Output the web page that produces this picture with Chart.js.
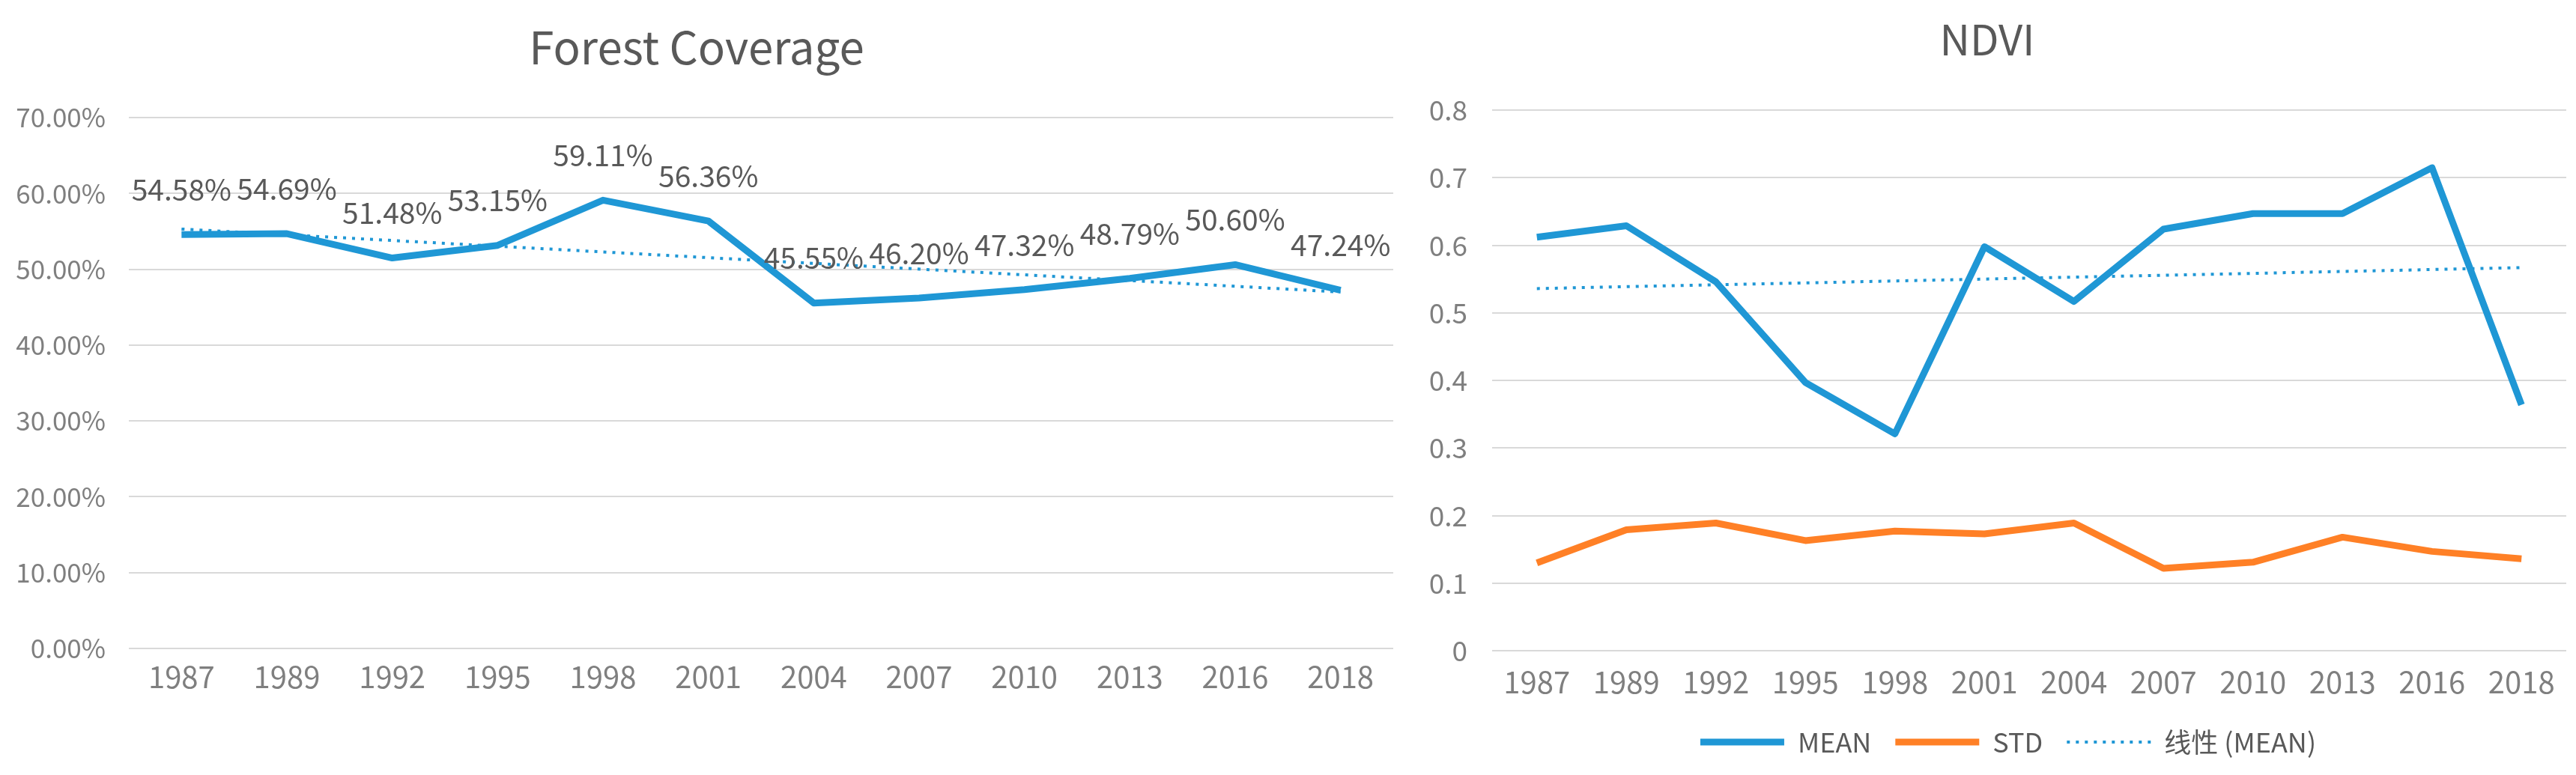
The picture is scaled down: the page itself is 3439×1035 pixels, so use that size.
<!DOCTYPE html>
<html>
<head>
<meta charset="utf-8">
<script src="https://cdn.jsdelivr.net/npm/chart.js@4.4.1/dist/chart.umd.min.js"></script>
<style>
  html, body { margin: 0; padding: 0; background: #fff; overflow: hidden; }
  .box { position: absolute; top: 0; height: 1035px; }
  #leftBox { left: 0; width: 1880px; }
  #rightBox { left: 1880px; width: 1559px; }
</style>
</head>
<body>
<div class="box" id="leftBox"><canvas id="chart1"></canvas></div>
<div class="box" id="rightBox"><canvas id="chart2"></canvas></div>
<script>
// data
var years = ['1987', '1989', '1992', '1995', '1998', '2001', '2004', '2007', '2010', '2013', '2016', '2018'];
var coverage = [54.58, 54.69, 51.48, 53.15, 59.11, 56.36, 45.55, 46.20, 47.32, 48.79, 50.60, 47.24];
var coverageTrend = [55.3, null, null, null, null, null, null, null, null, null, null, 47.0];
var ndviMean = [0.612, 0.629, 0.546, 0.397, 0.321, 0.598, 0.517, 0.624, 0.647, 0.647, 0.715, 0.364];
var ndviStd = [0.130, 0.179, 0.189, 0.163, 0.177, 0.173, 0.189, 0.122, 0.131, 0.168, 0.147, 0.136];
var ndviTrend = [0.536, null, null, null, null, null, null, null, null, null, null, 0.567];

const FONT = '"Noto Sans CJK SC", "Open Sans", sans-serif';
const BLUE = '#1f97d5';
const ORANGE = '#ff8026';
Chart.defaults.font.family = FONT;
Chart.defaults.animation = false;
Chart.defaults.events = [];
Chart.defaults.maintainAspectRatio = false;
Chart.defaults.responsive = true;

const gridStyle = {
  color: '#d9d9d9',
  lineWidth: 2,
  drawTicks: false
};

// value labels above the forest coverage line
const pointLabels = {
  id: 'pointLabels',
  afterDatasetsDraw(chart) {
    const meta = chart.getDatasetMeta(0);
    const ctx = chart.ctx;
    ctx.save();
    ctx.font = '39px ' + FONT;
    ctx.fillStyle = '#595959';
    ctx.textAlign = 'center';
    ctx.textBaseline = 'middle';
    meta.data.forEach(function(pt, i) {
      ctx.fillText(coverage[i].toFixed(2) + '%', pt.x, pt.y - 60);
    });
    ctx.restore();
  }
};

// legend sits a little right of the canvas centre, as in the original
const legendShift = {
  id: 'legendShift',
  afterLayout(chart) {
    if (chart.legend) chart.legend.left += 56;
  }
};

new Chart(document.getElementById('chart1').getContext('2d'), {
  type: 'line',
  data: {
    labels: years,
    datasets: [{
      label: 'Forest Coverage',
      data: coverage,
      borderColor: BLUE,
      borderWidth: 9,
      pointRadius: 0,
      tension: 0,
      borderJoinStyle: 'round'
    }, {
      label: '线性 (Forest Coverage)',
      data: coverageTrend,
      spanGaps: true,
      borderColor: BLUE,
      borderWidth: 4,
      borderDash: [4, 8],
      pointRadius: 0
    }]
  },
  options: {
    layout: { padding: { left: 0, right: 20, top: 0, bottom: 101 } },
    plugins: {
      legend: { display: false },
      tooltip: { enabled: false },
      title: {
        display: true,
        text: 'Forest Coverage',
        color: '#595959',
        font: { size: 60, weight: 'normal' },
        padding: { top: 27, bottom: 58 }
      }
    },
    scales: {
      x: {
        offset: true,
        grid: { display: false },
        border: { display: false },
        ticks: { color: '#7f7f7f', font: { size: 40 }, padding: 6, maxRotation: 0 }
      },
      y: {
        min: 0,
        max: 70,
        afterFit: function(scale) { scale.width = 172; },
        grid: gridStyle,
        border: { display: false },
        ticks: {
          stepSize: 10,
          color: '#7f7f7f',
          font: { size: 35 },
          padding: 31,
          callback: function(v) { return v.toFixed(2) + '%'; }
        }
      }
    }
  },
  plugins: [pointLabels]
});

new Chart(document.getElementById('chart2').getContext('2d'), {
  type: 'line',
  data: {
    labels: years,
    datasets: [{
      label: 'MEAN',
      data: ndviMean,
      borderColor: BLUE,
      backgroundColor: BLUE,
      borderWidth: 9,
      pointRadius: 0,
      tension: 0,
      borderJoinStyle: 'round'
    }, {
      label: 'STD',
      data: ndviStd,
      borderColor: ORANGE,
      backgroundColor: ORANGE,
      borderWidth: 9,
      pointRadius: 0,
      tension: 0,
      borderJoinStyle: 'round'
    }, {
      label: '线性 (MEAN)',
      data: ndviTrend,
      spanGaps: true,
      borderColor: BLUE,
      backgroundColor: BLUE,
      borderWidth: 4,
      borderDash: [4, 8],
      pointRadius: 0
    }]
  },
  options: {
    layout: { padding: { left: 0, right: 13, top: 0, bottom: 16 } },
    plugins: {
      tooltip: { enabled: false },
      title: {
        display: true,
        text: 'NDVI',
        color: '#595959',
        font: { size: 56, weight: 'normal' },
        padding: { top: 19, bottom: 61 }
      },
      legend: {
        position: 'bottom',
        labels: {
          usePointStyle: true,
          pointStyle: 'line',
          pointStyleWidth: 112,
          color: '#595959',
          font: { size: 36 },
          padding: 32,
          generateLabels: function(chart) {
            // take line width and dash from the dataset itself
            return Chart.defaults.plugins.legend.labels.generateLabels(chart).map(function(item) {
              const ds = chart.data.datasets[item.datasetIndex];
              item.lineWidth = ds.borderWidth;
              item.lineDash = ds.borderDash || [];
              item.strokeStyle = ds.borderColor;
              return item;
            });
          }
        }
      }
    },
    scales: {
      x: {
        offset: true,
        afterFit: function(scale) { scale.height -= 4; },
        grid: { display: false },
        border: { display: false },
        ticks: { color: '#7f7f7f', font: { size: 40 }, padding: 10, maxRotation: 0 }
      },
      y: {
        min: 0,
        max: 0.8,
        afterFit: function(scale) { scale.width = 112; },
        grid: gridStyle,
        border: { display: false },
        ticks: {
          stepSize: 0.1,
          color: '#7f7f7f',
          font: { size: 37 },
          padding: 33,
          callback: function(v) { return String(+v.toFixed(1)); }
        }
      }
    }
  },
  plugins: [legendShift]
});
</script>
</body>
</html>
